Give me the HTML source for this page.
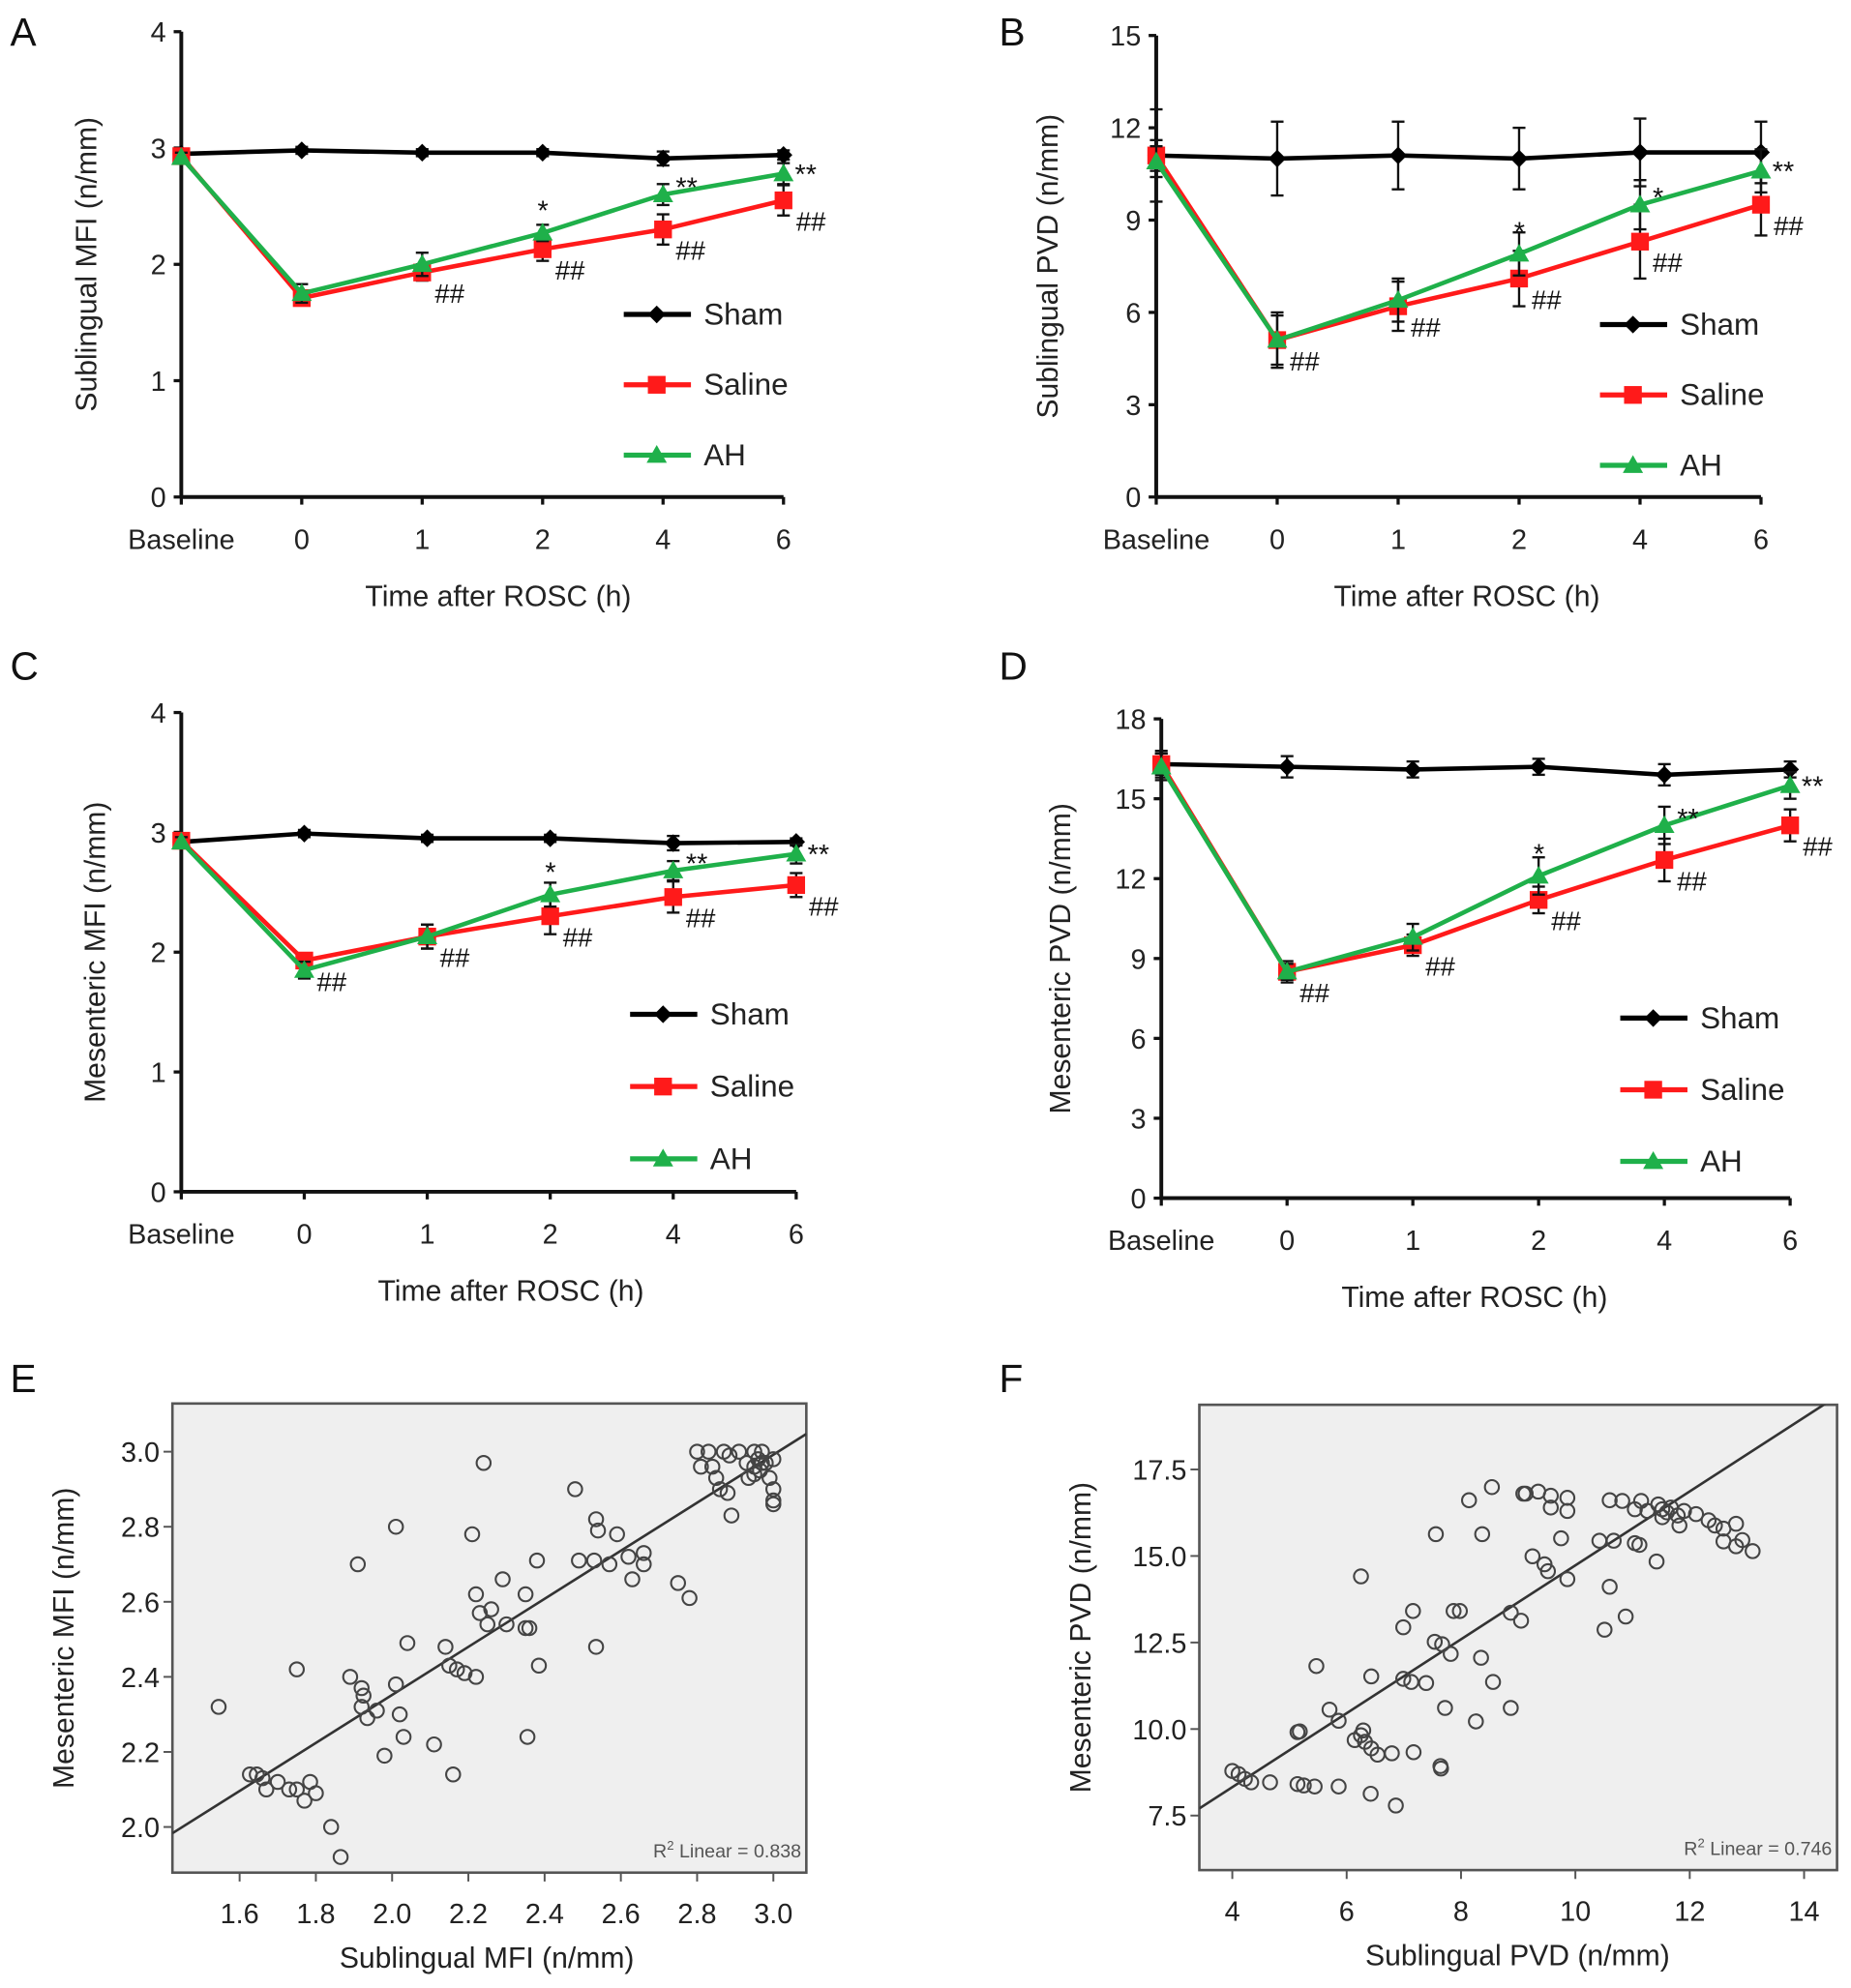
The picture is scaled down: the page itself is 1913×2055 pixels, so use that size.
<!DOCTYPE html>
<html><head><meta charset="utf-8"><style>
html,body{margin:0;padding:0;background:#fff;}
svg{display:block;font-family:"Liberation Sans",Arial,sans-serif;}
</style></head><body>
<svg id="fig" width="1913" height="2055" viewBox="0 0 1460 1568" preserveAspectRatio="none" xmlns="http://www.w3.org/2000/svg"></svg>
<script>
const cats = ["Baseline","0","1","2","4","6"];
// Panel A
const aSham=[2.95,2.98,2.96,2.96,2.91,2.94], aShamE=[0.03,0.03,0.03,0.03,0.06,0.04];
const aSal=[2.93,1.71,1.93,2.13,2.30,2.55], aSalE=[0.04,0.05,0.07,0.1,0.13,0.13];
const aAH=[2.92,1.75,2.00,2.27,2.60,2.78], aAHE=[0.04,0.08,0.1,0.07,0.09,0.09];
const aYT=[0,1,2,3,4];
// Panel B
const bSham=[11.1,11.0,11.1,11.0,11.2,11.2], bShamE=[1.5,1.2,1.1,1.0,1.1,1.0];
const bSal=[11.1,5.1,6.2,7.1,8.3,9.5], bSalE=[0.5,0.9,0.8,0.9,1.2,1.0];
const bAH=[10.9,5.1,6.4,7.9,9.5,10.6], bAHE=[0.5,0.8,0.7,0.7,0.8,0.7];
const bYT=[0,3,6,9,12,15];
// Panel C
const cSham=[2.92,2.99,2.95,2.95,2.91,2.92], cShamE=[0.03,0.03,0.03,0.03,0.06,0.03];
const cSal=[2.93,1.93,2.13,2.30,2.46,2.56], cSalE=[0.04,0.06,0.1,0.15,0.13,0.1];
const cAH=[2.92,1.85,2.13,2.48,2.68,2.82], cAHE=[0.04,0.07,0.1,0.1,0.08,0.08];
const cYT=[0,1,2,3,4];
// Panel D
const dSham=[16.3,16.2,16.1,16.2,15.9,16.1], dShamE=[0.4,0.4,0.3,0.3,0.4,0.3];
const dSal=[16.3,8.5,9.5,11.2,12.7,14.0], dSalE=[0.5,0.4,0.4,0.5,0.8,0.6];
const dAH=[16.2,8.5,9.8,12.1,14.0,15.5], dAHE=[0.5,0.3,0.5,0.7,0.7,0.5];
const dYT=[0,3,6,9,12,15,18];
// annotations
const hashA=[0,0,1,1,1,1], starA=["","","","*","**","**"];
const hashB=[0,1,1,1,1,1], starB=["","","","*","*","**"];
const hashC=[0,1,1,1,1,1], starC=["","","","*","**","**"];
const hashD=[0,1,1,1,1,1], starD=["","","","*","**","**"];
// Panel E scatter
const eX=[1.545,1.627,1.645,1.66,1.67,1.70,1.73,1.75,1.77,1.785,1.80,1.75,1.84,1.865,1.89,1.91,1.92,1.925,1.92,1.935,1.96,1.98,2.01,2.01,2.02,2.03,2.04,2.11,2.14,2.15,2.16,2.17,2.19,2.22,2.21,2.22,2.23,2.24,2.25,2.26,2.29,2.30,2.35,2.35,2.36,2.355,2.38,2.385,2.48,2.49,2.53,2.535,2.535,2.54,2.57,2.59,2.62,2.63,2.66,2.66,2.75,2.78,2.80,2.81,2.83,2.84,2.85,2.86,2.87,2.88,2.89,2.885,2.91,2.93,2.935,2.95,2.95,2.96,2.965,2.97,2.98,2.99,3.0,3.0,3.0,3.0,2.97,2.95];
const eY=[2.32,2.14,2.14,2.13,2.10,2.12,2.10,2.10,2.07,2.12,2.09,2.42,2.0,1.92,2.40,2.70,2.37,2.35,2.32,2.29,2.31,2.19,2.38,2.80,2.30,2.24,2.49,2.22,2.48,2.43,2.14,2.42,2.41,2.40,2.78,2.62,2.57,2.97,2.54,2.58,2.66,2.54,2.62,2.53,2.53,2.24,2.71,2.43,2.90,2.71,2.71,2.48,2.82,2.79,2.70,2.78,2.72,2.66,2.70,2.73,2.65,2.61,3.0,2.96,3.0,2.96,2.93,2.90,3.0,2.89,2.83,2.99,3.0,2.97,2.93,3.0,2.96,2.98,2.95,3.0,2.97,2.93,2.98,2.90,2.87,2.86,2.97,2.94];
const eXT=[1.6,1.8,2.0,2.2,2.4,2.6,2.8,3.0], eYT=[2.0,2.2,2.4,2.6,2.8,3.0];
const eFit=[0.640,1.072];
// Panel F scatter
const fX=[4.0,4.11,4.22,4.33,4.66,5.14,5.25,5.44,5.86,6.42,6.86,7.17,6.79,6.54,6.43,6.32,6.14,6.29,6.25,5.18,5.14,5.70,5.86,5.47,6.43,6.99,7.13,7.39,7.65,7.64,7.72,8.26,8.87,8.56,8.35,6.99,7.16,7.54,7.67,7.82,7.87,7.98,6.25,7.56,8.37,8.14,8.54,9.09,9.13,9.35,9.57,9.57,9.86,9.86,9.75,9.25,9.46,9.52,9.86,8.87,9.05,10.60,10.51,10.88,10.42,10.67,11.04,11.12,11.42,10.60,10.82,11.04,11.15,11.26,11.45,11.52,11.60,11.67,11.79,11.82,11.90,11.52,12.11,12.33,12.44,12.59,12.81,12.59,12.81,12.92,13.10];
const fY=[8.79,8.70,8.56,8.46,8.46,8.41,8.37,8.34,8.34,8.13,7.79,9.33,9.30,9.26,9.44,9.63,9.68,9.96,9.82,9.93,9.91,10.56,10.24,11.82,11.52,11.45,11.36,11.33,8.86,8.93,10.61,10.22,10.61,11.36,12.06,12.94,13.41,12.52,12.45,12.17,13.41,13.41,14.41,15.63,15.63,16.61,16.99,16.80,16.80,16.86,16.74,16.40,16.68,16.30,15.51,14.99,14.76,14.56,14.33,13.36,13.13,14.11,12.87,13.25,15.44,15.44,15.37,15.32,14.84,16.61,16.59,16.35,16.59,16.30,16.49,16.35,16.26,16.40,16.17,15.88,16.30,16.12,16.21,16.03,15.88,15.79,15.93,15.42,15.28,15.46,15.14];
const fXT=[4,6,8,10,12,14], fYT=[7.5,10.0,12.5,15.0,17.5];
const fFit=[1.068,4.05];

const NS="http://www.w3.org/2000/svg";
const svg=document.getElementById('fig');
function mk(tag,attrs,parent,text){const e=document.createElementNS(NS,tag);for(const k in attrs)e.setAttribute(k,attrs[k]);if(text!==undefined)e.textContent=text;(parent||svg).appendChild(e);return e;}

function lineChart(p){
  const g=mk('g',{});
  
  
  const ymax=p.yt[p.yt.length-1];
  const Y=v=>p.y0-(v/ymax)*(p.y0-p.yTop);
  const X=i=>p.x0+i*p.step;
  const t=mk('text',{x:p.lx,y:p.ly,'font-size':31,fill:'#111'},g,p.letter);
  
  
  mk('line',{x1:p.x0,y1:p.yTop,x2:p.x0,y2:p.y0,stroke:'#111','stroke-width':3},g);
  mk('line',{x1:p.x0,y1:p.y0,x2:X(5),y2:p.y0,stroke:'#111','stroke-width':3},g);
  p.yt.forEach(v=>{
    mk('line',{x1:p.x0-6,y1:Y(v),x2:p.x0,y2:Y(v),stroke:'#111','stroke-width':2.5},g);
    const l=mk('text',{x:p.x0-12,y:Y(v)+8,'font-size':22,'text-anchor':'end',fill:'#222'},g,String(v));
    
    
  });
  cats.forEach((c,i)=>{
    mk('line',{x1:X(i),y1:p.y0,x2:X(i),y2:p.y0+6,stroke:'#111','stroke-width':2.5},g);
    const l=mk('text',{x:X(i),y:p.y0+41,'font-size':22,'text-anchor':'middle',fill:'#222'},g,c);
    
    
  });
  const xt=mk('text',{x:p.xtx,y:p.y0+86,'font-size':23,'text-anchor':'middle',fill:'#222'},g,'Time after ROSC (h)');
  
  
  const cy=(p.yTop+p.y0)/2;
  const yt=mk('text',{x:p.ytx,y:cy,'font-size':23,'text-anchor':'middle',fill:'#222',transform:`rotate(-90 ${p.ytx} ${cy})`},g,p.ytitle);
  
  
  const series=[[p.sham,p.shamE,'#000','d','sham'],[p.sal,p.salE,'#ff1a1a','s','saline'],[p.ah,p.ahE,'#1fb04a','t','ah']];
  function marker(x,y,type,col,parent){
    if(type==='d')return mk('polygon',{points:`${x},${y-7} ${x+7},${y} ${x},${y+7} ${x-7},${y}`,fill:col},parent);
    if(type==='s')return mk('rect',{x:x-7,y:y-7,width:14,height:14,fill:col},parent);
    return mk('polygon',{points:`${x},${y-8} ${x+8},${y+6} ${x-8},${y+6}`,fill:col},parent);
  }
  series.forEach(([vals,errs,col,type,name])=>{
    const sg=mk('g',{},g);
    
    
    vals.forEach((v,i)=>{
      const x=X(i),a=Y(v+errs[i]),b=Y(v-errs[i]);
      mk('line',{x1:x,y1:a,x2:x,y2:b,stroke:'#111','stroke-width':1.8},sg);
      mk('line',{x1:x-5,y1:a,x2:x+5,y2:a,stroke:'#111','stroke-width':1.8},sg);
      mk('line',{x1:x-5,y1:b,x2:x+5,y2:b,stroke:'#111','stroke-width':1.8},sg);
    });
    mk('polyline',{points:vals.map((v,i)=>X(i)+','+Y(v)).join(' '),fill:'none',stroke:col,'stroke-width':3.5},sg);
    vals.forEach((v,i)=>{const m=marker(X(i),Y(v),type,col,sg);
      
      });
  });
  p.hash.forEach((h,i)=>{ if(h){const t=mk('text',{x:X(i)+10,y:Y(p.sal[i])+24,'font-size':21,fill:'#111'},g,'##');
    
    }});
  p.star.forEach((s,i)=>{ if(s){
    let sx=X(i)+8, sy=Y(p.ah[i])-2;
    if(i===3){sx=X(i)-4;sy=Y(p.ah[i])-10;}
    if(i===5){sx=X(i)+9;sy=Y(p.ah[i])+8;}
    if(i===4){sx=X(i)+10;sy=Y(p.ah[i])+2;}
    const t=mk('text',{x:sx,y:sy,'font-size':22,fill:'#111'},g,s);
    
    }});
  const names=['Sham','Saline','AH'];
  series.forEach(([v,e,col,type],k)=>{
    const lg=mk('g',{},g);
    
    
    const ly=p.legY+k*p.legGap;
    mk('line',{x1:p.legX,y1:ly,x2:p.legX+53,y2:ly,stroke:col,'stroke-width':4},lg);
    marker(p.legX+26,ly,type,col,lg);
    mk('text',{x:p.legX+63,y:ly+8,'font-size':24,fill:'#222'},lg,names[k]);
  });
}

lineChart({id:'panel-a',letter:'A',lx:8,ly:36,x0:143,step:95,y0:392,yTop:25,yt:aYT,sham:aSham,shamE:aShamE,sal:aSal,salE:aSalE,ah:aAH,ahE:aAHE,hash:hashA,star:starA,legX:492,legY:248,legGap:55.5,xtx:393,ytx:76,ytitle:'Sublingual MFI (n/mm)'});
lineChart({id:'panel-b',letter:'B',lx:788,ly:36,x0:912,step:95.4,y0:392,yTop:28,yt:bYT,sham:bSham,shamE:bShamE,sal:bSal,salE:bSalE,ah:bAH,ahE:bAHE,hash:hashB,star:starB,legX:1262,legY:256,legGap:55.5,xtx:1157,ytx:834,ytitle:'Sublingual PVD (n/mm)'});
lineChart({id:'panel-c',letter:'C',lx:8,ly:536,x0:143,step:97,y0:940,yTop:562,yt:cYT,sham:cSham,shamE:cShamE,sal:cSal,salE:cSalE,ah:cAH,ahE:cAHE,hash:hashC,star:starC,legX:497,legY:800,legGap:57,xtx:403,ytx:83,ytitle:'Mesenteric MFI (n/mm)'});
lineChart({id:'panel-d',letter:'D',lx:788,ly:536,x0:916,step:99.2,y0:945,yTop:567,yt:dYT,sham:dSham,shamE:dShamE,sal:dSal,salE:dSalE,ah:dAH,ahE:dAHE,hash:hashD,star:starD,legX:1278,legY:803,legGap:56.5,xtx:1163,ytx:844,ytitle:'Mesenteric PVD (n/mm)'});

function scatter(p){
  const g=mk('g',{});
  
  
  const X=v=>p.xa[1]+(v-p.xa[0])*p.xa[3];
  const Y=v=>p.ya[1]-(v-p.ya[0])*p.ya[3];
  const t=mk('text',{x:p.lx,y:p.ly,'font-size':31,fill:'#111'},g,p.letter);
  
  
  mk('rect',{x:p.bx,y:p.by,width:p.bw,height:p.bh,fill:'#efefef',stroke:'#555','stroke-width':2},g);
  p.xt.forEach(v=>{
    mk('line',{x1:X(v),y1:p.by+p.bh,x2:X(v),y2:p.by+p.bh+7,stroke:'#555','stroke-width':1.5},g);
    const l=mk('text',{x:X(v),y:p.by+p.bh+40,'font-size':22,'text-anchor':'middle',fill:'#222'},g,p.xfmt(v));
    
    
  });
  p.yt.forEach(v=>{
    mk('line',{x1:p.bx-7,y1:Y(v),x2:p.bx,y2:Y(v),stroke:'#555','stroke-width':1.5},g);
    const l=mk('text',{x:p.bx-10,y:Y(v)+8,'font-size':22,'text-anchor':'end',fill:'#222'},g,v.toFixed(1));
    
    
  });
  const xt=mk('text',{x:p.xtx,y:p.by+p.bh+75,'font-size':23,'text-anchor':'middle',fill:'#222'},g,p.xtitle);
  
  
  const cy=p.by+p.bh/2;
  const yt=mk('text',{x:p.ytx,y:cy,'font-size':23,'text-anchor':'middle',fill:'#222',transform:`rotate(-90 ${p.ytx} ${cy})`},g,p.ytitle);
  
  
  const inv=px=>p.xa[0]+(px-p.xa[1])/p.xa[3];
  let xa=inv(p.bx),xb=inv(p.bx+p.bw);
  let ya=p.fit[0]*xa+p.fit[1],yb=p.fit[0]*xb+p.fit[1];
  const cp=mk('clipPath',{id:p.id+'-clip'},g);mk('rect',{x:p.bx,y:p.by,width:p.bw,height:p.bh},cp);
  const fl=mk('line',{x1:X(xa),y1:Y(ya),x2:X(xb),y2:Y(yb),stroke:'#333','stroke-width':2,'clip-path':`url(#${p.id}-clip)`},g);
  
  
  p.xs.forEach((v,i)=>{
    const c=mk('circle',{cx:X(v),cy:Y(p.ys[i]),r:5.5,fill:'none',stroke:'#444','stroke-width':1.6},g);
    
    
  });
  const r=mk('text',{x:p.bx+p.bw-4,y:p.by+p.bh-12,'font-size':15,'text-anchor':'end',fill:'#555'},g);
  
  
  r.innerHTML='R<tspan dy="-6" font-size="10">2</tspan><tspan dy="6"> Linear = '+p.r2+'</tspan>';
}
scatter({id:'panel-e',letter:'E',lx:8,ly:1098,bx:136,by:1107,bw:500,bh:370,xa:[1.6,189,0,(610-189)/1.4],ya:[2.0,1441,0,(1441-1145)/1.0],xt:eXT,yt:eYT,xs:eX,ys:eY,fit:eFit,xfmt:v=>v.toFixed(1),xtitle:'Sublingual MFI (n/mm)',ytitle:'Mesenteric MFI (n/mm)',xtx:384,ytx:58,r2:'0.838'});
scatter({id:'panel-f',letter:'F',lx:788,ly:1098,bx:946,by:1108,bw:503,bh:367,xa:[4,972,0,(1423-972)/10],ya:[7.5,1432,0,(1432-1159)/10],xt:fXT,yt:fYT,xs:fX,ys:fY,fit:fFit,xfmt:v=>String(v),xtitle:'Sublingual PVD (n/mm)',ytitle:'Mesenteric PVD (n/mm)',xtx:1197,ytx:860,r2:'0.746'});
</script>
</body></html>
